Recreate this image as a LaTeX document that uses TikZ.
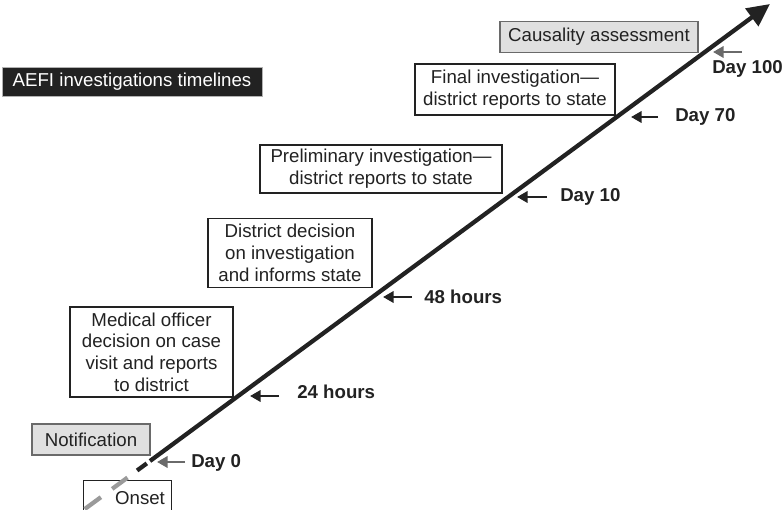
\documentclass[tikz,border=0pt]{standalone}
\usepackage{fontspec}
\setmainfont{Liberation Sans}
\usetikzlibrary{arrows.meta}
\definecolor{ink}{HTML}{222222}
\definecolor{boxgray}{HTML}{E0E0E0}
\definecolor{edgegray}{HTML}{6A6A6A}
\definecolor{dashgray}{HTML}{9A9A9A}
\begin{document}
\begin{tikzpicture}[x=0.75pt,y=-0.75pt,
  every node/.style={font=\fontsize{14}{16.3}\selectfont, text=ink, inner sep=0pt, align=center},
  size/.style 2 args={minimum width=#1*0.75pt, minimum height=#2*0.75pt},
  whitebox/.style={draw=ink, line width=0.8pt, fill=white},
  graybox/.style={draw=edgegray, line width=0.8pt, fill=boxgray},
  darkbox/.style={draw=gray!60, line width=0.6pt, fill=ink, text=white},
  daylabel/.style={font=\fontsize{14}{16.3}\selectfont\bfseries, anchor=west},
  tick/.style={draw=ink, line width=2pt, -{Triangle[length=8pt,width=8.5pt]}},
  graytick/.style={tick, draw=edgegray, -{Triangle[length=8pt,width=8.5pt,fill=edgegray]}},
  mainline/.style={draw=ink, line width=3.2pt},
]
\useasboundingbox (0,0) rectangle (783,510);
\clip (0,0) rectangle (783,510);

% title
\node[darkbox, size={260}{29}] (title) at (132,81.5)
  {AEFI investigations timelines};

% stage boxes
\node[graybox, size={198}{31}] (causal) at (599,37) {Causality assessment};
\node[whitebox, size={200}{51}] (final) at (515,89.5)
  {Final investigation—\\district reports to state};
\node[whitebox, size={242}{48}] (prelim) at (381,169)
  {Preliminary investigation—\\district reports to state};
\node[whitebox, size={164}{69}] (district) at (290,253)
  {District decision\\on investigation\\and informs state};
\node[whitebox, size={163}{90}] (medical) at (151.5,352)
  {Medical officer\\decision on case\\visit and reports\\to district};
\node[graybox, size={118}{31}] (notif) at (91,439.5) {Notification};
\node[whitebox, size={88}{50}, anchor=north west] (onsetbox) at (83,480) {};
\node (onset) at (140,498) {Onset};

% the timeline
\coordinate (start) at (150,461);
\coordinate (tip) at (770,4);
\draw[mainline, -{Triangle[length=17pt,width=16pt]}] (start) -- (tip);
\draw[draw=ink, line width=3.2pt] (146.8,463.4) coordinate (d1) -- (137.1,470.5) coordinate (d2);
\draw[draw=dashgray, line width=3.2pt] (127.5,477.6) coordinate (g1) -- (112.2,488.9) coordinate (g2);
\draw[draw=dashgray, line width=3.2pt] (100.9,497.2) coordinate (g3) -- (84.8,509) coordinate (g4);

% time points on the line
\coordinate (p0) at (157,462);
\coordinate (p24) at (250,396);
\coordinate (p48) at (383,297);
\coordinate (p10) at (517,197);
\coordinate (p70) at (631,117);
\coordinate (p100) at (713,52);

\node[daylabel] (l0) at (191,463) {Day 0};
\node[daylabel] (l24) at (297,392) {24 hours};
\node[daylabel] (l48) at (424,297) {48 hours};
\node[daylabel] (l10) at (560,197) {Day 10};
\node[daylabel] (l70) at (675,117) {Day 70};
\node[daylabel] (l100) at (712,69) {Day 100};

\coordinate (t0) at (185,462);
\coordinate (t24) at (279,396);
\coordinate (t48) at (412,297);
\coordinate (t10) at (547,197);
\coordinate (t70) at (658,117);
\coordinate (t100) at (742,52);

\draw[graytick] (t0) -- (p0);
\draw[tick] (t24) -- (p24);
\draw[tick] (t48) -- (p48);
\draw[tick] (t10) -- (p10);
\draw[tick] (t70) -- (p70);
\draw[graytick] (t100) -- (p100);
\end{tikzpicture}
\end{document}
